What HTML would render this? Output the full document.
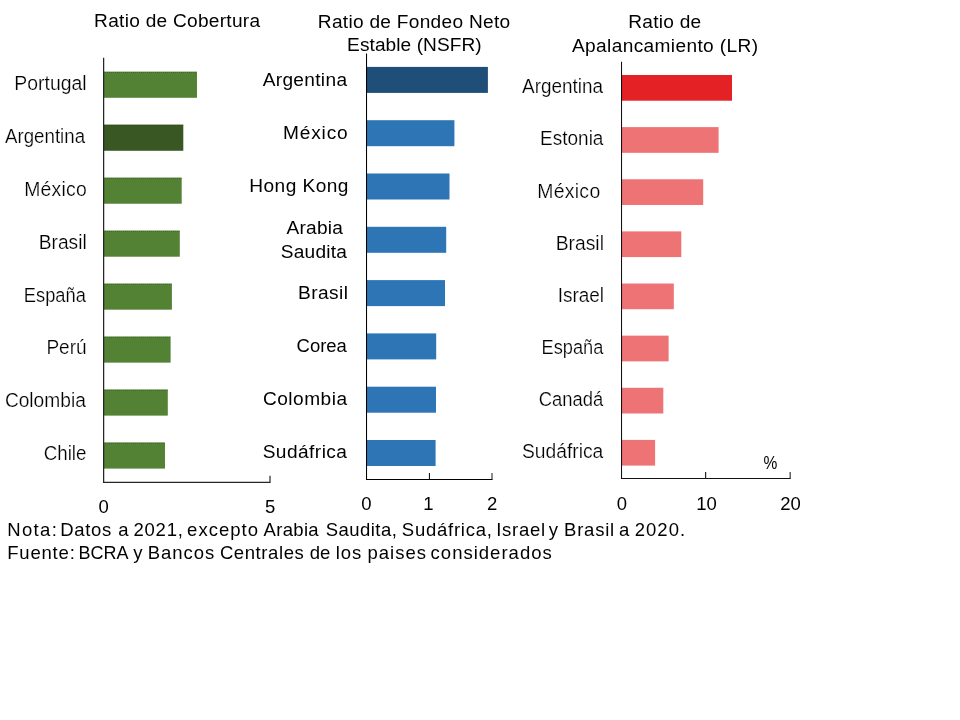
<!DOCTYPE html>
<html lang="es">
<head>
<meta charset="utf-8">
<title>Ratios de liquidez y apalancamiento</title>
<style>
html,body{margin:0;padding:0;background:#fff;}
body{width:960px;height:720px;overflow:hidden;}
svg{display:block;font-family:"Liberation Sans",sans-serif;}
</style>
</head>
<body>
<svg width="960" height="720" viewBox="0 0 960 720">
<rect width="960" height="720" fill="#fff"/>
<g id="panel-cobertura">
<text x="94.12" y="27.30" font-size="19.1" textLength="165.93" lengthAdjust="spacing" fill="#000">Ratio de Cobertura</text>
<rect x="104.0" y="71.60" width="93.00" height="26.2" fill="#548235"/><path d="M105 72.5H197.0" stroke="#1e3a10" stroke-width="1" stroke-dasharray="1 1" opacity="0.35" fill="none"/>
<text x="14.16" y="89.75" font-size="19.4" textLength="72.51" lengthAdjust="spacing" fill="#000" stroke="#fff" stroke-width="0.22">Portugal</text>
<rect x="104.0" y="124.57" width="79.30" height="26.2" fill="#385723"/><path d="M105 125.5H183.3" stroke="#1e3a10" stroke-width="1" stroke-dasharray="1 1" opacity="0.35" fill="none"/>
<text x="5.02" y="142.70" font-size="19.4" textLength="80.04" lengthAdjust="spacingAndGlyphs" fill="#000" stroke="#fff" stroke-width="0.22">Argentina</text>
<rect x="104.0" y="177.54" width="77.70" height="26.2" fill="#548235"/><path d="M105 178.5H181.7" stroke="#1e3a10" stroke-width="1" stroke-dasharray="1 1" opacity="0.35" fill="none"/>
<text x="24.16" y="195.60" font-size="19.4" textLength="62.70" lengthAdjust="spacing" fill="#000" stroke="#fff" stroke-width="0.22">México</text>
<rect x="104.0" y="230.51" width="75.80" height="26.2" fill="#548235"/><path d="M105 231.5H179.8" stroke="#1e3a10" stroke-width="1" stroke-dasharray="1 1" opacity="0.35" fill="none"/>
<text x="38.69" y="248.50" font-size="19.4" textLength="48.05" lengthAdjust="spacingAndGlyphs" fill="#000" stroke="#fff" stroke-width="0.22">Brasil</text>
<rect x="104.0" y="283.48" width="67.90" height="26.2" fill="#548235"/><path d="M105 284.5H171.9" stroke="#1e3a10" stroke-width="1" stroke-dasharray="1 1" opacity="0.35" fill="none"/>
<text x="23.81" y="301.50" font-size="19.4" textLength="62.02" lengthAdjust="spacingAndGlyphs" fill="#000" stroke="#fff" stroke-width="0.22">España</text>
<rect x="104.0" y="336.45" width="66.60" height="26.2" fill="#548235"/><path d="M105 337.5H170.6" stroke="#1e3a10" stroke-width="1" stroke-dasharray="1 1" opacity="0.35" fill="none"/>
<text x="46.43" y="354.40" font-size="19.4" textLength="40.17" lengthAdjust="spacingAndGlyphs" fill="#000" stroke="#fff" stroke-width="0.22">Perú</text>
<rect x="104.0" y="389.42" width="63.80" height="26.2" fill="#548235"/><path d="M105 390.5H167.8" stroke="#1e3a10" stroke-width="1" stroke-dasharray="1 1" opacity="0.35" fill="none"/>
<text x="4.89" y="407.40" font-size="19.4" textLength="80.94" lengthAdjust="spacingAndGlyphs" fill="#000" stroke="#fff" stroke-width="0.22">Colombia</text>
<rect x="104.0" y="442.39" width="61.00" height="26.2" fill="#548235"/><path d="M105 443.5H165.0" stroke="#1e3a10" stroke-width="1" stroke-dasharray="1 1" opacity="0.35" fill="none"/>
<text x="43.69" y="460.30" font-size="19.4" textLength="42.78" lengthAdjust="spacingAndGlyphs" fill="#000" stroke="#fff" stroke-width="0.22">Chile</text>
<path d="M103 57.7H104.25V481.65H270.6V475.75H269.4V481.65H270.6V482.9H103Z" fill="#262626"/>
<text x="98.39" y="513.00" font-size="18.5" fill="#000">0</text>
<text x="264.97" y="513.40" font-size="18.5" fill="#000">5</text>
</g>
<g id="panel-nsfr">
<text x="317.86" y="27.60" font-size="19.1" textLength="192.27" lengthAdjust="spacing" fill="#000">Ratio de Fondeo Neto</text>
<text x="347.12" y="51.40" font-size="19.1" textLength="134.53" lengthAdjust="spacing" fill="#000">Estable (NSFR)</text>
<rect x="367.0" y="66.90" width="120.90" height="26" fill="#1F4E79"/>
<rect x="367.0" y="120.20" width="87.40" height="26" fill="#2E75B6"/>
<rect x="367.0" y="173.50" width="82.50" height="26" fill="#2E75B6"/>
<rect x="367.0" y="226.80" width="79.20" height="26" fill="#2E75B6"/>
<rect x="367.0" y="280.10" width="78.00" height="26" fill="#2E75B6"/>
<rect x="367.0" y="333.40" width="69.20" height="26" fill="#2E75B6"/>
<rect x="367.0" y="386.70" width="69.00" height="26" fill="#2E75B6"/>
<rect x="367.0" y="440.00" width="68.60" height="26" fill="#2E75B6"/>
<text x="262.65" y="85.90" font-size="19.1" textLength="84.36" lengthAdjust="spacing" fill="#000">Argentina</text>
<text x="282.96" y="138.90" font-size="19.1" textLength="64.77" lengthAdjust="spacing" fill="#000">México</text>
<text x="249.26" y="191.90" font-size="19.1" textLength="99.23" lengthAdjust="spacing" fill="#000">Hong Kong</text>
<text x="286.46" y="233.75" font-size="19.1" textLength="56.51" lengthAdjust="spacing" fill="#000">Arabia</text>
<text x="280.74" y="257.50" font-size="19.1" textLength="66.20" lengthAdjust="spacing" fill="#000">Saudita</text>
<text x="297.96" y="298.50" font-size="19.1" textLength="50.13" lengthAdjust="spacing" fill="#000">Brasil</text>
<text x="296.55" y="351.60" font-size="19.1" textLength="50.35" lengthAdjust="spacingAndGlyphs" fill="#000">Corea</text>
<text x="262.96" y="404.90" font-size="19.1" textLength="84.04" lengthAdjust="spacing" fill="#000">Colombia</text>
<text x="262.67" y="458.10" font-size="19.1" textLength="84.29" lengthAdjust="spacing" fill="#000">Sudáfrica</text>
<path d="M366 53.6H367.05V479H492.5V480H366Z" fill="#000"/>
<path d="M428.9 472.9H430V479.5H428.9ZM491.5 472.9H492.5V479.5H491.5Z" fill="#1a1a1a"/>
<text x="361.33" y="510.30" font-size="18.5" fill="#000">0</text>
<text x="423.29" y="510.30" font-size="18.5" fill="#000">1</text>
<text x="487.05" y="510.30" font-size="18.5" fill="#000">2</text>
</g>
<g id="panel-lr">
<text x="628.26" y="27.60" font-size="19.1" textLength="72.87" lengthAdjust="spacing" fill="#000">Ratio de</text>
<text x="572.00" y="51.60" font-size="19.1" textLength="186.02" lengthAdjust="spacing" fill="#000">Apalancamiento (LR)</text>
<rect x="622.0" y="75.00" width="110.00" height="25.7" fill="#E42124"/>
<text x="522.04" y="92.75" font-size="19.4" textLength="80.99" lengthAdjust="spacingAndGlyphs" fill="#000" stroke="#fff" stroke-width="0.22">Argentina</text>
<rect x="622.0" y="127.13" width="96.60" height="25.7" fill="#ED7374"/>
<text x="540.07" y="145.30" font-size="19.4" textLength="63.36" lengthAdjust="spacingAndGlyphs" fill="#000" stroke="#fff" stroke-width="0.22">Estonia</text>
<rect x="622.0" y="179.26" width="81.20" height="25.7" fill="#ED7374"/>
<text x="537.16" y="197.50" font-size="19.4" textLength="63.02" lengthAdjust="spacing" fill="#000" stroke="#fff" stroke-width="0.22">México</text>
<rect x="622.0" y="231.39" width="59.30" height="25.7" fill="#ED7374"/>
<text x="555.64" y="249.60" font-size="19.4" textLength="48.32" lengthAdjust="spacingAndGlyphs" fill="#000" stroke="#fff" stroke-width="0.22">Brasil</text>
<rect x="622.0" y="283.52" width="51.80" height="25.7" fill="#ED7374"/>
<text x="557.63" y="301.60" font-size="19.4" textLength="46.41" lengthAdjust="spacingAndGlyphs" fill="#000" stroke="#fff" stroke-width="0.22">Israel</text>
<rect x="622.0" y="335.65" width="46.60" height="25.7" fill="#ED7374"/>
<text x="541.62" y="353.70" font-size="19.4" textLength="61.73" lengthAdjust="spacingAndGlyphs" fill="#000" stroke="#fff" stroke-width="0.22">España</text>
<rect x="622.0" y="387.78" width="41.30" height="25.7" fill="#ED7374"/>
<text x="538.73" y="405.60" font-size="19.4" textLength="64.49" lengthAdjust="spacingAndGlyphs" fill="#000" stroke="#fff" stroke-width="0.22">Canadá</text>
<rect x="622.0" y="439.91" width="33.10" height="25.7" fill="#ED7374"/>
<text x="521.95" y="457.60" font-size="19.4" textLength="81.36" lengthAdjust="spacingAndGlyphs" fill="#000" stroke="#fff" stroke-width="0.22">Sudáfrica</text>
<path d="M621 61.8H622.05V478H790.7V479H621Z" fill="#111"/>
<path d="M705 472H706.2V478.5H705ZM789.6 472H790.7V478.5H789.6Z" fill="#262626"/>
<text x="616.66" y="509.50" font-size="18.5" fill="#000">0</text>
<text x="696.14" y="509.50" font-size="18.5" fill="#000">10</text>
<text x="780.16" y="509.50" font-size="18.5" fill="#000">20</text>
<text transform="translate(763.40 469.00) scale(0.84 1)" font-size="18.5" fill="#000">%</text>
</g>
<g id="notas">
<text y="535.6" font-size="18.5" fill="#000"><tspan x="7.23" textLength="49.66" lengthAdjust="spacing">Nota:</tspan> <tspan x="60.23" textLength="50.96" lengthAdjust="spacing">Datos</tspan> <tspan x="118.30">a</tspan> <tspan x="133.60" textLength="49.19" lengthAdjust="spacing">2021,</tspan> <tspan x="187.10" textLength="70.84" lengthAdjust="spacing">excepto</tspan> <tspan x="263.57" textLength="55.04" lengthAdjust="spacing">Arabia</tspan> <tspan x="325.83" textLength="70.98" lengthAdjust="spacing">Saudita,</tspan> <tspan x="401.81" textLength="90.04" lengthAdjust="spacing">Sudáfrica,</tspan> <tspan x="496.19" textLength="49.00" lengthAdjust="spacing">Israel</tspan> <tspan x="548.68">y</tspan> <tspan x="564.06" textLength="50.11" lengthAdjust="spacing">Brasil</tspan> <tspan x="618.98">a</tspan> <tspan x="634.67" textLength="50.55" lengthAdjust="spacing">2020.</tspan></text>
<text y="559.3" font-size="18.5" fill="#000"><tspan x="7.23" textLength="67.56" lengthAdjust="spacing">Fuente:</tspan> <tspan x="78.53" textLength="49.02" lengthAdjust="spacingAndGlyphs">BCRA</tspan> <tspan x="133.16">y</tspan> <tspan x="147.70" textLength="66.51" lengthAdjust="spacing">Bancos</tspan> <tspan x="219.88" textLength="83.91" lengthAdjust="spacing">Centrales</tspan> <tspan x="309.83">de</tspan> <tspan x="335.80" textLength="25.43" lengthAdjust="spacing">los</tspan> <tspan x="367.60" textLength="58.32" lengthAdjust="spacing">paises</tspan> <tspan x="430.58" textLength="121.16" lengthAdjust="spacing">considerados</tspan></text>
</g>
</svg>
</body>
</html>
